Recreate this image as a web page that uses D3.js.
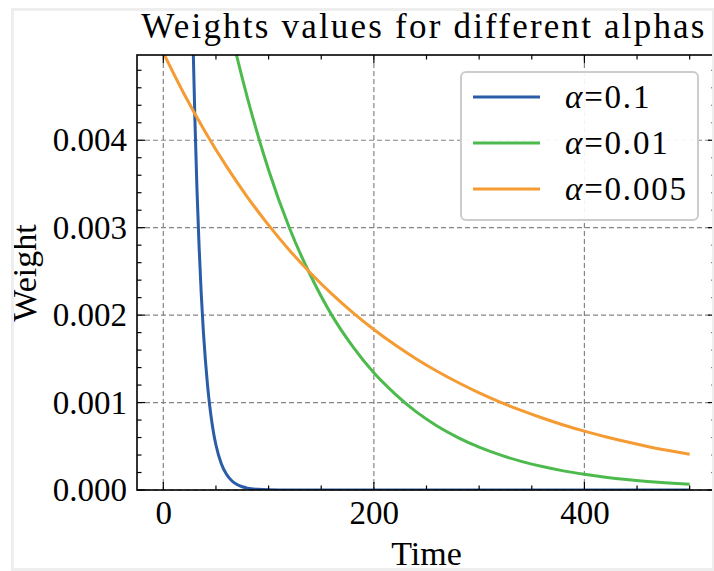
<!DOCTYPE html>
<html>
<head>
<meta charset="utf-8">
<script src="https://cdn.jsdelivr.net/npm/d3@7"></script>
<style>
  body { margin: 0; background: #fff; }
  svg { display: block; }
  text { font-family: "Liberation Serif", "Times New Roman", serif; fill: #000; }
</style>
</head>
<body>
<svg id="chart" width="714" height="571"></svg>
<script>
// values
const timeBlue = [0, 20, 25, 28, 30, 32, 34, 36, 38, 40, 42, 44, 46, 48, 50, 55, 60, 65, 70, 75, 80, 90, 100, 120, 150, 200, 300, 400, 500];
const weightBlue = [0.1, 0.01216, 0.00718, 0.00523, 0.00424, 0.00343, 0.00278, 0.00225, 0.00182, 0.00148, 0.00120, 0.00097, 0.000786, 0.000636, 0.000515, 0.000304, 0.00018, 0.000106, 0.0000627, 0.000037, 0.0000218, 0.0000076, 0.0000027, 0.0000003, 0, 0, 0, 0, 0];

const timeGreen = [0, 20, 40, 60, 70, 80, 100, 120, 140, 160, 180, 200, 220, 240, 260, 280, 300, 320, 340, 360, 380, 400, 420, 440, 460, 480, 500];
const weightGreen = [0.01, 0.00818, 0.00669, 0.00547, 0.00495, 0.00448, 0.00366, 0.00299, 0.00245, 0.002, 0.00164, 0.00134, 0.0011, 0.000896, 0.000733, 0.0006, 0.00049, 0.000401, 0.000328, 0.000268, 0.000219, 0.00018, 0.000147, 0.00012, 0.0000982, 0.0000803, 0.0000657];

const timeOrange = [0, 20, 40, 60, 80, 100, 120, 140, 160, 180, 200, 220, 240, 260, 280, 300, 320, 340, 360, 380, 400, 420, 440, 460, 480, 500];
const weightOrange = [0.005, 0.004523, 0.004092, 0.003701, 0.003348, 0.003029, 0.00274, 0.002479, 0.002242, 0.002028, 0.001835, 0.00166, 0.001501, 0.001358, 0.001229, 0.001111, 0.001005, 0.00091, 0.000823, 0.000744, 0.000673, 0.000609, 0.000551, 0.000498, 0.000451, 0.000408];

const seriesNames = ["0.1", "0.01", "0.005"];
const xTicks = [0, 200, 400];
const yTicks = [0, 0.001, 0.002, 0.003, 0.004];

const colors = ["#2a5ca8", "#4cba4c", "#f59b33"];

const series = [
  { name: seriesNames[0], t: timeBlue, w: weightBlue },
  { name: seriesNames[1], t: timeGreen, w: weightGreen },
  { name: seriesNames[2], t: timeOrange, w: weightOrange }
];

const W = 714, H = 571;
const margin = { top: 55, right: -2, bottom: 81, left: 137 };
const plotW = W - margin.left - margin.right;
const plotH = H - margin.top - margin.bottom;

const svg = d3.select("#chart");

const x = d3.scaleLinear().domain([-25, 525]).range([0, plotW]);
const y = d3.scaleLinear().domain([0, 0.004975]).range([plotH, 0]);

const g = svg.append("g").attr("transform", `translate(${margin.left},${margin.top})`);

g.append("clipPath").attr("id", "plotclip")
  .append("rect").attr("width", plotW).attr("height", plotH);

// grid
g.append("g").selectAll("line.vg").data(xTicks).join("line")
  .attr("x1", d => x(d)).attr("x2", d => x(d))
  .attr("y1", 0).attr("y2", plotH)
  .attr("stroke", "#858585").attr("stroke-width", 1.2).attr("stroke-dasharray", "5,3");
g.append("g").selectAll("line.hg").data(yTicks).join("line")
  .attr("x1", 0).attr("x2", plotW)
  .attr("y1", d => y(d)).attr("y2", d => y(d))
  .attr("stroke", "#858585").attr("stroke-width", 1.2).attr("stroke-dasharray", "5,3");

// curves
const line = d3.line()
  .x(d => x(d[0]))
  .y(d => y(d[1]))
  .curve(d3.curveMonotoneX);

g.append("g").attr("clip-path", "url(#plotclip)")
  .selectAll("path").data(series).join("path")
  .attr("d", s => line(d3.zip(s.t, s.w)))
  .attr("fill", "none")
  .attr("stroke", (s, i) => colors[i])
  .attr("stroke-width", 3);

// ticks on all four sides, pointing inward
const xMinor = d3.range(0, 501, 50).filter(v => !xTicks.includes(v));
const yMinor = d3.range(0, 0.0049, 0.0002).filter(v => !yTicks.some(t => Math.abs(t - v) < 1e-9));
const majLen = 8, minLen = 4.5;

const tickG = g.append("g").attr("stroke", "#000").attr("stroke-width", 1.2);
[[xTicks, majLen], [xMinor, minLen]].forEach(([vals, len]) => {
  tickG.selectAll(null).data(vals).join("line")
    .attr("x1", d => x(d)).attr("x2", d => x(d)).attr("y1", plotH).attr("y2", plotH - len);
  tickG.selectAll(null).data(vals).join("line")
    .attr("x1", d => x(d)).attr("x2", d => x(d)).attr("y1", 0).attr("y2", len);
});
[[yTicks, majLen], [yMinor, minLen]].forEach(([vals, len]) => {
  tickG.selectAll(null).data(vals).join("line")
    .attr("y1", d => y(d)).attr("y2", d => y(d)).attr("x1", 0).attr("x2", len);
  tickG.selectAll(null).data(vals).join("line")
    .attr("y1", d => y(d)).attr("y2", d => y(d)).attr("x1", plotW).attr("x2", plotW - len);
});

// spines
g.append("rect").attr("width", plotW).attr("height", plotH)
  .attr("fill", "none").attr("stroke", "#000").attr("stroke-width", 1.6);

// tick labels via d3 axes (tick lines hidden, drawn above)
const xAxis = g.append("g").attr("transform", `translate(0,${plotH})`)
  .call(d3.axisBottom(x).tickValues(xTicks).tickSize(0).tickPadding(11).tickFormat(d3.format("d")));
const yAxis = g.append("g")
  .call(d3.axisLeft(y).tickValues(yTicks).tickSize(0).tickPadding(10).tickFormat(d3.format(".3f")));
[xAxis, yAxis].forEach(a => {
  a.select(".domain").remove();
  a.selectAll("text").attr("font-family", null).style("font-size", "33px").attr("fill", "#000");
  a.attr("font-family", null).attr("font-size", null);
});

// axis labels and title
svg.append("text")
  .attr("x", margin.left + (plotW) / 2).attr("y", 565)
  .attr("text-anchor", "middle").style("font-size", "34px").text("Time");
svg.append("text")
  .attr("transform", `translate(36,273) rotate(-90)`)
  .attr("text-anchor", "middle").style("font-size", "34px").text("Weight");
svg.append("text")
  .attr("x", 424).attr("y", 38)
  .attr("text-anchor", "middle").style("font-size", "35px").style("letter-spacing", "2.2px")
  .text("Weights values for different alphas");

// legend
const leg = svg.append("g").attr("transform", "translate(461,72)");
leg.append("rect").attr("width", 237).attr("height", 148).attr("rx", 5)
  .attr("fill", "#fff").attr("fill-opacity", 0.92)
  .attr("stroke", "#cccccc").attr("stroke-width", 2);
const rows = leg.selectAll("g.row").data(series).join("g")
  .attr("transform", (d, i) => `translate(0,${25 + i * 46})`);
rows.append("line").attr("x1", 12).attr("x2", 79).attr("y1", 0).attr("y2", 0)
  .attr("stroke", (d, i) => colors[i]).attr("stroke-width", 3);
const lbl = rows.append("text").attr("x", 104).attr("y", 11)
  .style("font-size", "33px").style("letter-spacing", "1.8px");
lbl.append("tspan").style("font-style", "italic").text("α");
lbl.append("tspan").text(d => "=" + d.name);

// light frame around the figure
svg.append("rect").attr("x", 12.5).attr("y", 9.5).attr("width", 701).attr("height", 560)
  .attr("fill", "none").attr("stroke", "#eeeeee").attr("stroke-width", 3);
</script>
</body>
</html>
